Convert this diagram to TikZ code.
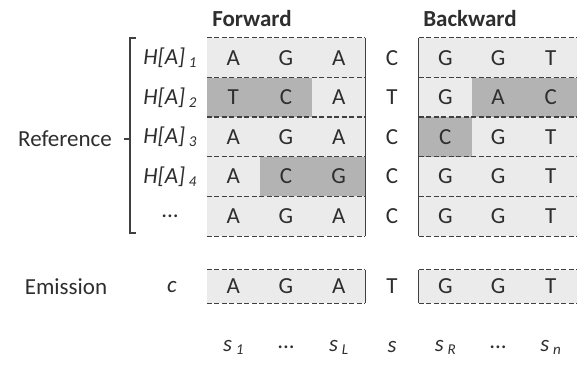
\documentclass[tikz,border=0pt]{standalone}
\usepackage{fontspec}
\setmainfont{Carlito}
\definecolor{lightcell}{HTML}{EBEBEB}
\definecolor{darkcell}{HTML}{B3B3B3}
\definecolor{ink}{HTML}{2E2E2E}
\definecolor{linecol}{HTML}{404040}
\newcommand{\sub}[1]{\,\raisebox{-3pt}{\fontsize{15}{15}\selectfont\itshape #1}}
\begin{document}
\begin{tikzpicture}[x=1pt,y=-1pt,
  every node/.style={text=ink,font=\fontsize{23}{27}\selectfont},
  cell/.style={minimum width=52.67pt,minimum height=39.6pt,inner sep=0pt,fill=lightcell},
  dcell/.style={cell,fill=darkcell},
  plain/.style={minimum width=52.67pt,minimum height=39.6pt,inner sep=0pt},
  dline/.style={draw=linecol,line width=1.2pt,dash pattern=on 5pt off 2.5pt},
  sline/.style={draw=linecol,line width=1.2pt},
  lab/.style={inner sep=0pt,font=\fontsize{23}{27}\selectfont\itshape}]
\useasboundingbox (0,0) rectangle (578,371);
% headers
\node[font=\fontsize{23}{27}\selectfont\bfseries] (fwd) at (252,19) {Forward};
\node[font=\fontsize{23}{27}\selectfont\bfseries] (bwd) at (470,19) {Backward};
% grid rows
\foreach \r/\y/\a/\b/\c/\m/\d/\e/\f/\sa/\sb/\sc/\sd/\se/\sf in {
  1/57.8/A/G/A/C/G/G/T/cell/cell/cell/cell/cell/cell,
  2/97.4/T/C/A/T/G/A/C/dcell/dcell/cell/cell/dcell/dcell,
  3/137/A/G/A/C/C/G/T/cell/cell/cell/dcell/cell/cell,
  4/176.6/A/C/G/C/G/G/T/cell/dcell/dcell/cell/cell/cell,
  5/216.2/A/G/A/C/G/G/T/cell/cell/cell/cell/cell/cell}{
  \node[\sa] (f\r a) at (233.33,\y) {\a};
  \node[\sb] (f\r b) at (286,\y) {\b};
  \node[\sc] (f\r c) at (338.67,\y) {\c};
  \node[plain] (m\r) at (392,\y) {\m};
  \node[\sd] (b\r a) at (445.33,\y) {\d};
  \node[\se] (b\r b) at (498,\y) {\e};
  \node[\sf] (b\r c) at (550.67,\y) {\f};
}
% dashed row lines
\foreach \r in {1,...,5}{
  \draw[dline] (f\r a.north west) -- (f\r c.north east);
  \draw[dline] (b\r a.north west) -- (b\r c.north east);
}
\draw[dline] (f5a.south west) -- (f5c.south east);
\draw[dline] (b5a.south west) -- (b5c.south east);
% solid borders
\draw[sline] (f1c.north east) -- (f5c.south east);
\draw[sline] (b1a.north west) -- (b5a.south west);
% row labels
\node[lab] (h1) at (170,57.8) {H[A]\sub{1}};
\node[lab] (h2) at (170,97.4) {H[A]\sub{2}};
\node[lab] (h3) at (170,137) {H[A]\sub{3}};
\node[lab] (h4) at (170,176.6) {H[A]\sub{4}};
\node[inner sep=0pt] (h5) at (170,216.2) {...};
% bracket
\coordinate (bt) at (130,38);
\coordinate (bb) at (130,233);
\coordinate (bm) at (130,139);
\draw[sline,line width=1.3pt] ([xshift=6pt]bt) -- (bt) -- (bb) -- ([xshift=6pt]bb);
\draw[sline,line width=1.3pt] (bm) -- ([xshift=-6pt]bm);
\node[inner sep=0pt] (ref) at (65,139) {Reference};
% emission row
\node[inner sep=0pt] (em) at (66,287) {Emission};
\node[lab] (c) at (172,287) {c};
\foreach \k/\x/\t in {a/233.33/A,b/286/G,c/338.67/A}{
  \node[cell,minimum height=33pt] (ef\k) at (\x,286.5) {\t};
}
\node[plain,minimum height=33pt] (em0) at (392,286.5) {T};
\foreach \k/\x/\t in {a/445.33/G,b/498/G,c/550.67/T}{
  \node[cell,minimum height=33pt] (eb\k) at (\x,286.5) {\t};
}
\draw[dline] (efa.north west) -- (efc.north east);
\draw[dline] (efa.south west) -- (efc.south east);
\draw[dline] (eba.north west) -- (ebc.north east);
\draw[dline] (eba.south west) -- (ebc.south east);
\draw[sline] (efc.north east) -- (efc.south east);
\draw[sline] (eba.north west) -- (eba.south west);
% position labels
\node[lab] (s1) at (233.33,347) {s\sub{1}};
\node[inner sep=0pt] (sd1) at (286,347) {...};
\node[lab] (sL) at (338.67,347) {s\sub{L}};
\node[lab] (s) at (392,347) {s};
\node[lab] (sR) at (445.33,347) {s\sub{R}};
\node[inner sep=0pt] (sd2) at (498,347) {...};
\node[lab] (sn) at (550.67,347) {s\sub{n}};
\end{tikzpicture}
\end{document}
